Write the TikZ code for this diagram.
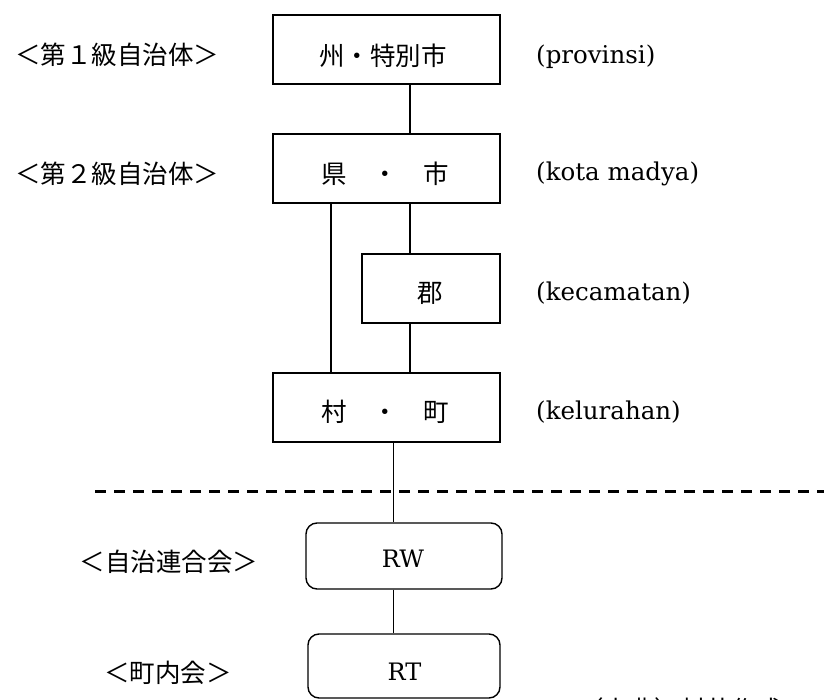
\documentclass[tikz,border=0pt]{standalone}
\usepackage{fontspec}
\newfontfamily\jp{Noto Sans CJK JP}
\newfontfamily\lat{DejaVu Serif}
\usetikzlibrary{calc}
\begin{document}
\begin{tikzpicture}[x=1pt,y=-1pt,
  box/.style={draw,line width=1.8pt,minimum width=227pt,minimum height=69pt,inner sep=0pt},
  rbox/.style={draw,line width=1.4pt,rounded corners=11pt,minimum width=196pt,minimum height=66pt,inner sep=0pt},
  jt/.style={font=\jp\fontsize{25.5}{30}\selectfont,inner sep=0pt},
  lt/.style={font=\lat\fontsize{24.5}{30}\selectfont,inner sep=0pt,anchor=west},
  rt/.style={font=\lat\fontsize{24}{30}\selectfont,inner sep=0pt},
  conn/.style={line width=1.6pt},
  dline/.style={line width=3pt,dash pattern=on 11pt off 8pt}]
\useasboundingbox (0,0) rectangle (824,700);
\fill[white] (0,0) rectangle (824,700);
% boxes
\node[box] (b1) at (386.5,49.5) {};
\node[box] (b2) at (386.5,168.5) {};
\node[box,minimum width=138pt] (b3) at (431,288.5) {};
\node[box] (b4) at (386.5,407.5) {};
\node[rbox] (rw) at (404,556) {};
\node[rbox,minimum width=192pt,minimum height=64pt] (rtb) at (404,666) {};
% box texts
\node[jt] (t1) at (383,56) {州・特別市};
\node[jt] (t2) at (385,174) {県　・　市};
\node[jt] (t3) at (430,293) {郡};
\node[jt] (t4) at (385,412) {村　・　町};
\node[rt] (t5) at (403,559) {RW};
\node[rt] (t6) at (404.5,672) {RT};
% left labels
\node[jt] (l1) at (117,55) {＜第１級自治体＞};
\node[jt] (l2) at (117,174) {＜第２級自治体＞};
\node[jt] (l3) at (169,562) {＜自治連合会＞};
\node[jt] (l4) at (168,673) {＜町内会＞};
% right labels
\node[lt] (r1) at (536,57) {(provinsi)};
\node[lt] (r2) at (536,174) {(kota madya)};
\node[lt] (r3) at (536,293) {(kecamatan)};
\node[lt] (r4) at (536,412) {(kelurahan)};
% source (cut off at bottom, as in the reference)
\node[jt,anchor=north west] (src) at (578,697) {（出典）村井作成};
% connectors
\coordinate (va) at (410,0);
\coordinate (vb) at (331,0);
\coordinate (vc) at (393.5,0);
\draw[conn] (b1.south -| va) -- (b2.north -| va);
\draw[conn] (b2.south -| vb) -- (b4.north -| vb);
\draw[conn] (b2.south -| va) -- (b3.north -| va);
\draw[conn] (b3.south -| va) -- (b4.north -| va);
\draw[conn] (b4.south -| vc) -- (rw.north -| vc);
\draw[conn] (rw.south -| vc) -- (rtb.north -| vc);
% dashed separator
\coordinate (d1) at (95,491);
\coordinate (d2) at (830,491);
\draw[dline] (d1) -- (d2);
\end{tikzpicture}
\end{document}
